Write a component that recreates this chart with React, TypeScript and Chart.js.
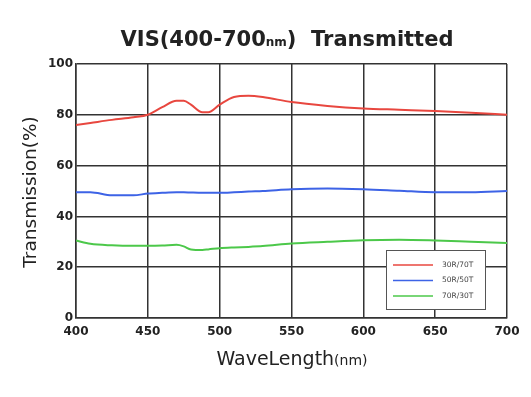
import React, { useEffect, useRef } from "react";
import { Chart, registerables } from "chart.js";
Chart.register(...registerables);

const wavelengths = [400, 410, 425, 440, 450, 460, 470, 475, 480, 488, 492, 500, 510, 520, 530, 550, 575, 600, 625, 650, 675, 700];
const red30R70T = [76, 76.8, 78, 79, 80, 83, 85.5, 85.5, 84, 81, 81, 84, 87, 87.5, 87, 85, 83.5, 82.5, 82, 81.5, 80.8, 80];
const blue50R50T = [49.5, 49.5, 48.3, 48.3, 49, 49.3, 49.5, 49.5, 49.4, 49.3, 49.3, 49.3, 49.5, 49.8, 50, 50.7, 51, 50.7, 50.1, 49.5, 49.5, 50];
const green70R30T = [30.5, 29.2, 28.6, 28.4, 28.4, 28.5, 28.8, 28.2, 27, 26.8, 27, 27.5, 27.8, 28, 28.3, 29.3, 30, 30.6, 30.8, 30.5, 30, 29.5];
const seriesLabels = ["30R/70T", "50R/50T", "70R/30T"];
const seriesColors = ["#e8473f", "#3d63e6", "#4cc84a"];
const xTicks = [400, 450, 500, 550, 600, 650, 700];
const yTicks = [0, 20, 40, 60, 80, 100];

const FONT = "'DejaVu Sans', sans-serif";

function drawParts(ctx: any, parts: [string, string][], cx: number, y: number) {
  let total = 0;
  for (const [t, f] of parts) { ctx.font = f; total += ctx.measureText(t).width; }
  let x = cx - total / 2;
  ctx.textAlign = "left";
  for (const [t, f] of parts) {
    ctx.font = f; ctx.fillText(t, x, y); x += ctx.measureText(t).width;
  }
}

const overlay = {
  id: "overlay",
  afterDraw(chart: any) {
    const ctx = chart.ctx;
    ctx.save();
    ctx.fillStyle = "#222";
    ctx.textBaseline = "alphabetic";
    drawParts(ctx, [
      ["VIS(400-700", "bold 21px " + FONT],
      ["nm", "bold 12px " + FONT],
      [")  Transmitted", "bold 21px " + FONT],
    ], 287, 46);
    drawParts(ctx, [
      ["WaveLength", "19px " + FONT],
      ["(nm)", "14px " + FONT],
    ], 292, 365);
    ctx.save();
    ctx.translate(36, 192);
    ctx.rotate(-Math.PI / 2);
    ctx.font = "18.5px " + FONT;
    ctx.textAlign = "center";
    ctx.fillText("Transmission(%)", 0, 0);
    ctx.restore();
    // Legend
    const lx = 386, ly = 250, lw = 99, lh = 59;
    ctx.fillStyle = "#fff";
    ctx.fillRect(lx, ly, lw, lh);
    ctx.strokeStyle = "#555";
    ctx.lineWidth = 1;
    ctx.strokeRect(lx + 0.5, ly + 0.5, lw, lh);
    chart.data.datasets.forEach((ds: any, i: number) => {
      const yy = ly + 15 + i * 15.5;
      ctx.strokeStyle = ds.borderColor;
      ctx.lineWidth = 1.5;
      ctx.beginPath(); ctx.moveTo(lx + 7, yy); ctx.lineTo(lx + 47, yy); ctx.stroke();
      ctx.fillStyle = "#444";
      ctx.font = "7.5px " + FONT;
      ctx.textAlign = "left";
      ctx.textBaseline = "middle";
      ctx.fillText(ds.label, lx + 56, yy);
    });
    ctx.restore();
  },
};

export default function App() {
  const ref = useRef<HTMLCanvasElement>(null);
  useEffect(() => {
    document.body.style.margin = "0";
    const chart = new Chart(ref.current!, {
      type: "line",
      data: {
        datasets: [red30R70T, blue50R50T, green70R30T].map((arr, i) => ({
          label: seriesLabels[i],
          data: wavelengths.map((w, j) => ({ x: w, y: arr[j] })),
          borderColor: seriesColors[i],
          backgroundColor: seriesColors[i],
          borderWidth: 2,
          pointRadius: 0,
          tension: 0.4,
          cubicInterpolationMode: "monotone",
        })),
      },
      options: {
        responsive: false,
        animation: false,
        layout: { padding: { top: 64, right: 24, left: 0, bottom: 0 } },
        plugins: { legend: { display: false }, title: { display: false }, tooltip: { enabled: false } },
        scales: {
          x: {
            type: "linear",
            min: 400,
            max: 700,
            afterBuildTicks: (s: any) => { s.ticks = xTicks.map((v) => ({ value: v })); },
            afterFit: (s: any) => { s.height = 79; },
            grid: { color: "#333", lineWidth: 1.5, drawTicks: false },
            border: { color: "#333", width: 1.5 },
            ticks: { color: "#222", font: { family: FONT, size: 12, weight: "bold" }, padding: 7, maxRotation: 0 },
          },
          y: {
            min: 0,
            max: 100,
            afterBuildTicks: (s: any) => { s.ticks = yTicks.map((v) => ({ value: v })); },
            afterFit: (s: any) => { s.width = 76; },
            grid: { color: "#333", lineWidth: 1.5, drawTicks: false },
            border: { color: "#333", width: 1.5 },
            ticks: { color: "#222", font: { family: FONT, size: 12, weight: "bold" }, padding: 3 },
          },
        },
      },
      plugins: [overlay],
    } as any);
    return () => chart.destroy();
  }, []);
  return (
    <div style={{ position: "absolute", left: 0, top: 0, width: 531, height: 397, background: "#fff" }}>
      <canvas ref={ref} width={531} height={397} />
    </div>
  );
}
